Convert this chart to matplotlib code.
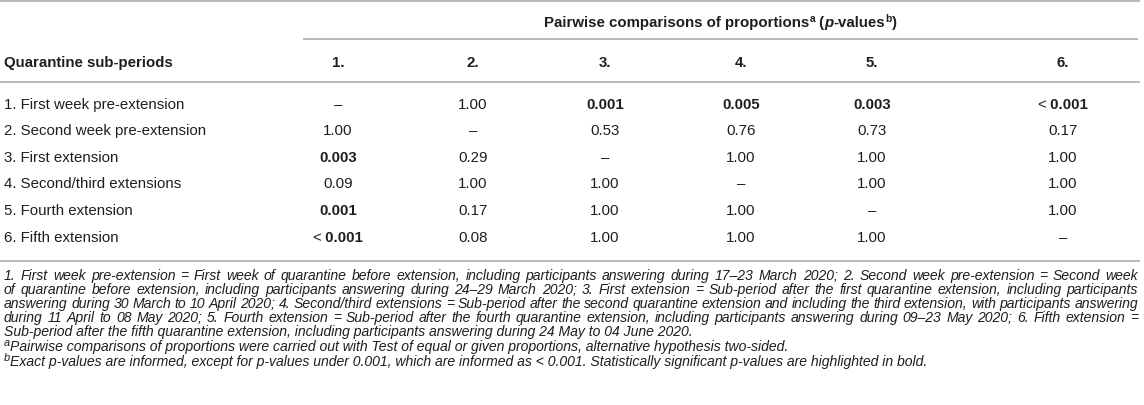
"""Pairwise comparisons table (p-values) rendered as a matplotlib figure."""

import matplotlib
matplotlib.use("Agg")
import matplotlib.pyplot as plt

W, H = 1144, 406
FONT = "Liberation Sans"
INK = "#1e1e1e"
RULE = "#b4b4b4"
TABLE_PT = 10.8
NOTE_PT = 10.1

PERIODS = [
    "1. First week pre-extension",
    "2. Second week pre-extension",
    "3. First extension",
    "4. Second/third extensions",
    "5. Fourth extension",
    "6. Fifth extension",
]
COLUMNS = ["1.", "2.", "3.", "4.", "5.", "6."]
PVALUES = [
    ["–", "1.00", "0.001", "0.005", "0.003", "< 0.001"],
    ["1.00", "–", "0.53", "0.76", "0.73", "0.17"],
    ["0.003", "0.29", "–", "1.00", "1.00", "1.00"],
    ["0.09", "1.00", "1.00", "–", "1.00", "1.00"],
    ["0.001", "0.17", "1.00", "1.00", "–", "1.00"],
    ["< 0.001", "0.08", "1.00", "1.00", "1.00", "–"],
]
NOTE_LINES = [
    "1. First week pre-extension = First week of quarantine before extension, including participants answering during 17–23 March 2020; 2. Second week pre-extension = Second week",
    "of quarantine before extension, including participants answering during 24–29 March 2020; 3. First extension = Sub-period after the first quarantine extension, including participants",
    "answering during 30 March to 10 April 2020; 4. Second/third extensions = Sub-period after the second quarantine extension and including the third extension, with participants answering",
    "during 11 April to 08 May 2020; 5. Fourth extension = Sub-period after the fourth quarantine extension, including participants answering during 09–23 May 2020; 6. Fifth extension =",
    "Sub-period after the fifth quarantine extension, including participants answering during 24 May to 04 June 2020.",
]
NOTE_A = "Pairwise comparisons of proportions were carried out with Test of equal or given proportions, alternative hypothesis two-sided."
NOTE_B = "Exact p-values are informed, except for p-values under 0.001, which are informed as < 0.001. Statistically significant p-values are highlighted in bold."

# layout (pixels, y grows downward)
LEFT, RIGHT = 4, 1138
COL_X = [338, 473, 605, 741, 872, 1063]
ROW_Y = [104, 130, 157, 183, 210, 237]
HEAD1_Y, HEAD2_Y = 22, 62
NOTE_Y = [275, 289, 303, 317, 331, 346, 361]


def significant(s):
    if s == "–":
        return False
    if s.startswith("<"):
        return True
    return float(s) < 0.05


fig = plt.figure(figsize=(W / 100, H / 100), dpi=100)
ax = fig.add_axes([0, 0, 1, 1])
ax.set_xlim(0, W)
ax.set_ylim(H, 0)
ax.axis("off")
renderer = fig.canvas.get_renderer()


def props(pt, weight="normal", style="normal"):
    return dict(fontsize=pt, fontweight=weight, fontstyle=style,
                family=FONT, color=INK)


def width(s, **kw):
    t = ax.text(0, 0, s, **kw)
    w = t.get_window_extent(renderer).width
    t.remove()
    return w


def draw_runs(x, y, runs, pt, ha="left", sup_scale=0.68):
    """runs: (text, weight, style, superscript). y is the text centre."""
    px = pt * 100 / 72
    base = y + px * 0.36
    items = []
    for text, weight, style, sup in runs:
        size = pt * sup_scale if sup else pt
        kw = props(size, weight, style)
        items.append((text, kw, sup, width(text, **kw)))
    total = sum(it[3] for it in items)
    if ha == "center":
        x -= total / 2
    for text, kw, sup, w in items:
        yy = base - px * 0.36 if sup else base
        ax.text(x, yy, text, va="baseline", ha="left", **kw)
        x += w


def rule(y, x0=0, x1=W - 4):
    ax.plot([x0, x1], [y, y], color=RULE, lw=1.3, solid_capstyle="butt")


# rules
rule(2)
rule(40, x0=303, x1=RIGHT)
rule(83)
rule(262)

# header
draw_runs((303 + RIGHT) / 2, HEAD1_Y, [
    ("Pairwise comparisons of proportions", "bold", "normal", False),
    ("a", "bold", "normal", True),
    (" (", "bold", "normal", False),
    ("p", "bold", "italic", False),
    ("-values", "bold", "normal", False),
    ("b", "bold", "normal", True),
    (")", "bold", "normal", False),
], TABLE_PT, ha="center")

draw_runs(LEFT, HEAD2_Y, [("Quarantine sub-periods", "bold", "normal", False)],
          TABLE_PT)
for cx, lab in zip(COL_X, COLUMNS):
    draw_runs(cx, HEAD2_Y, [(lab, "bold", "normal", False)], TABLE_PT,
              ha="center")

# body
for ry, name, row in zip(ROW_Y, PERIODS, PVALUES):
    draw_runs(LEFT, ry, [(name, "normal", "normal", False)], TABLE_PT)
    for cx, val in zip(COL_X, row):
        weight = "bold" if significant(val) else "normal"
        if val.startswith("<"):
            runs = [("<", "normal", "normal", False),
                    (" " + val[2:], weight, "normal", False)]
        else:
            runs = [(val, weight, "normal", False)]
        draw_runs(cx, ry, runs, TABLE_PT, ha="center")

# footnotes: first lines justified to the right edge
note_kw = props(NOTE_PT, style="italic")
for i, line in enumerate(NOTE_LINES):
    y = NOTE_Y[i]
    base = y + NOTE_PT * 100 / 72 * 0.36
    if i < len(NOTE_LINES) - 1:
        words = line.split(" ")
        ws = [width(w, **note_kw) for w in words]
        gap = (RIGHT - LEFT - sum(ws)) / (len(words) - 1)
        x = LEFT
        for w, wd in zip(words, ws):
            ax.text(x, base, w, va="baseline", ha="left", **note_kw)
            x += wd + gap
    else:
        ax.text(LEFT, base, line, va="baseline", ha="left", **note_kw)

draw_runs(LEFT, NOTE_Y[5], [("a", "normal", "italic", True),
                            (NOTE_A, "normal", "italic", False)], NOTE_PT,
          sup_scale=0.78)
draw_runs(LEFT, NOTE_Y[6], [("b", "normal", "italic", True),
                            (NOTE_B, "normal", "italic", False)], NOTE_PT,
          sup_scale=0.78)

fig.savefig("out.png", dpi=100, facecolor="white")
